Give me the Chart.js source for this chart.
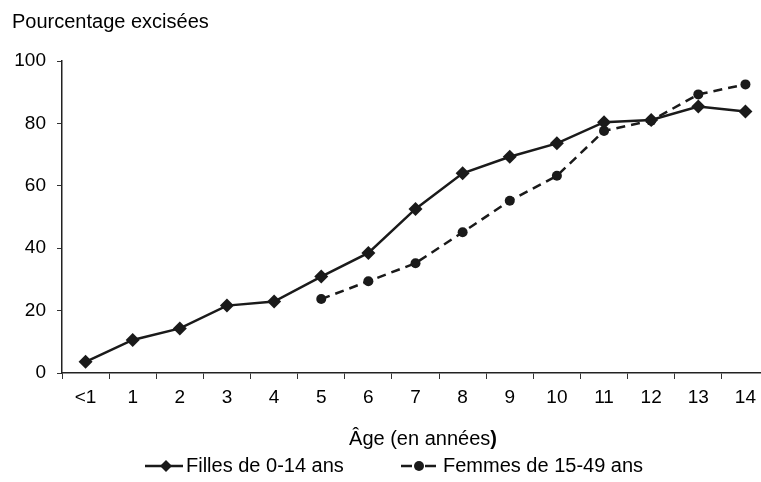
<!DOCTYPE html>
<html>
<head>
<meta charset="utf-8">
<script src="https://cdn.jsdelivr.net/npm/chart.js@4/dist/chart.umd.min.js"></script>
<style>
  html, body { margin: 0; padding: 0; background: #fff; overflow: hidden; }
  canvas { display: block; }
</style>
</head>
<body>
<canvas id="excision" width="776" height="482"></canvas>
<script>
// Âges et pourcentages
const ages = ['<1', '1', '2', '3', '4', '5', '6', '7', '8', '9', '10', '11', '12', '13', '14'];
const filles = [3.6, 10.6, 14.3, 21.6, 22.9, 30.9, 38.5, 52.6, 64.0, 69.3, 73.6, 80.4, 81.1, 85.4, 83.8];
const femmes = [null, null, null, null, null, 23.7, 29.4, 35.2, 45.1, 55.2, 63.2, 77.6, 80.9, 89.3, 92.5];
const yTicks = [0, 20, 40, 60, 80, 100];

const FONT = 'Liberation Sans, Arial, sans-serif';
const INK = '#1a1a1a';

// titres et légende dessinés à la main
const annotations = {
    id: 'annotations',
    afterDraw(chart) {
        const c = chart.ctx;
        c.save();
        c.fillStyle = '#000';
        c.textBaseline = 'middle';

        c.font = '20px ' + FONT;
        c.textAlign = 'left';
        c.fillText('Pourcentage excisées', 12, 22);

        // titre de l'axe x, la parenthèse fermante est en gras
        const part1 = 'Âge (en années';
        c.font = '20px ' + FONT;
        const w1 = c.measureText(part1).width;
        c.font = 'bold 20px ' + FONT;
        const w2 = c.measureText(')').width;
        const x = 423 - (w1 + w2) / 2;
        c.font = '20px ' + FONT;
        c.fillText(part1, x, 439);
        c.font = 'bold 20px ' + FONT;
        c.fillText(')', x + w1, 439);

        // légende
        const ly = 466;
        c.strokeStyle = INK;
        c.fillStyle = INK;
        c.lineWidth = 2.5;
        c.beginPath(); c.moveTo(145, ly); c.lineTo(183, ly); c.stroke();
        c.beginPath();
        c.moveTo(166, ly - 6); c.lineTo(172, ly); c.lineTo(166, ly + 6); c.lineTo(160, ly);
        c.closePath(); c.fill();

        c.beginPath(); c.moveTo(401, ly); c.lineTo(412, ly); c.stroke();
        c.beginPath(); c.moveTo(425, ly); c.lineTo(436, ly); c.stroke();
        c.beginPath(); c.arc(419, ly, 5, 0, Math.PI * 2); c.fill();

        c.fillStyle = '#000';
        c.font = '20px ' + FONT;
        c.fillText('Filles de 0-14 ans', 186, ly);
        c.fillText('Femmes de 15-49 ans', 443, ly);
        c.restore();
    }
};

new Chart(document.getElementById('excision'), {
    type: 'line',
    data: {
        labels: ages,
        datasets: [{
            label: 'Filles de 0-14 ans',
            data: filles,
            borderColor: INK,
            backgroundColor: INK,
            borderWidth: 2.5,
            pointStyle: 'rectRot',
            pointRadius: 7,
            pointBorderWidth: 0,
            tension: 0
        }, {
            label: 'Femmes de 15-49 ans',
            data: femmes,
            borderColor: INK,
            backgroundColor: INK,
            borderWidth: 2.5,
            borderDash: [9, 6],
            pointStyle: 'circle',
            pointRadius: 5,
            pointBorderWidth: 0,
            tension: 0
        }]
    },
    options: {
        responsive: false,
        animation: false,
        layout: { padding: { top: 61, left: 0, right: 0, bottom: 69 } },
        plugins: {
            legend: { display: false },
            tooltip: { enabled: false }
        },
        scales: {
            x: {
                offset: true,
                afterFit(scale) { scale.height = 40; },
                grid: { offset: true, drawOnChartArea: false, tickLength: 6, color: '#333', lineWidth: 1 },
                border: { color: '#222', width: 1.5 },
                ticks: { color: '#000', padding: 7, maxRotation: 0, font: { family: FONT, size: 19 } }
            },
            y: {
                min: 0,
                max: 100,
                afterFit(scale) { scale.width = 62; },
                afterBuildTicks(scale) { scale.ticks = yTicks.map(v => ({ value: v })); },
                grid: { drawOnChartArea: false, tickLength: 5, color: '#333', lineWidth: 1 },
                border: { color: '#222', width: 1.5 },
                ticks: { color: '#000', padding: 11, font: { family: FONT, size: 19 } }
            }
        }
    },
    plugins: [annotations]
});
</script>
</body>
</html>
